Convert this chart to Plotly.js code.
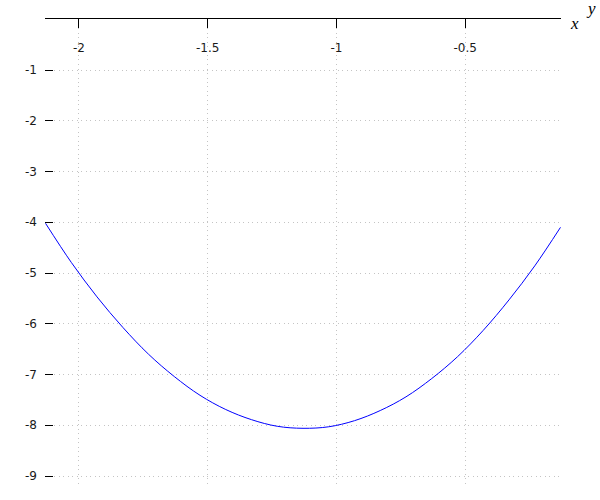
<!DOCTYPE html>
<html>
<head>
<meta charset="utf-8">
<script src="https://cdn.plot.ly/plotly-3.0.1.min.js"></script>
<style>html,body{margin:0;padding:0;background:#fff;}</style>
</head>
<body>
<div id="chart" style="width:600px;height:500px;"></div>
<script>
// Curve points
const xValues = [-2.13, -2.03, -1.93, -1.83, -1.73, -1.63, -1.53, -1.43, -1.33, -1.23, -1.13, -1.03, -0.93, -0.83, -0.73, -0.63, -0.53, -0.43, -0.33, -0.23, -0.13];
const yValues = [-4.02, -4.79, -5.47, -6.07, -6.60, -7.04, -7.41, -7.69, -7.89, -8.02, -8.06, -8.03, -7.91, -7.71, -7.44, -7.08, -6.65, -6.13, -5.53, -4.86, -4.10];

const xTickVals = [-2, -1.5, -1, -0.5];
const xTickText = ["-2", "-1.5", "-1", "-0.5"];
const yTickVals = [-1, -2, -3, -4, -5, -6, -7, -8, -9];
const yTickText = ["-1", "-2", "-3", "-4", "-5", "-6", "-7", "-8", "-9"];

const trace = {
  x: xValues, y: yValues, type: 'scatter', mode: 'lines',
  line: {color: '#0000ff', width: 1, shape: 'spline'},
  hoverinfo: 'skip'
};

const tickFont = {family: 'DejaVu Sans', size: 12, color: '#1a1a1a'};

const layout = {
  width: 600, height: 500,
  margin: {l: 45, r: 39, t: 19, b: 14, pad: 0},
  paper_bgcolor: '#fff', plot_bgcolor: '#fff',
  showlegend: false,
  xaxis: {
    side: 'top', range: [-2.132, -0.128],
    tickvals: xTickVals, ticktext: xTickText,
    showline: true, linecolor: '#000', linewidth: 1,
    ticks: 'inside', ticklen: 9, tickcolor: '#000', tickwidth: 1,
    ticklabelposition: 'inside', ticklabelstandoff: 15,
    showgrid: true, gridcolor: '#c4c4c4', griddash: '1px,3.5px', gridwidth: 1,
    zeroline: false, tickfont: tickFont, fixedrange: true
  },
  yaxis: {
    range: [-9.197, 0.005],
    tickvals: yTickVals, ticktext: yTickText,
    showline: false,
    ticks: 'inside', ticklen: 8, tickcolor: '#000', tickwidth: 1,
    ticklabelstandoff: 7,
    showgrid: true, gridcolor: '#c4c4c4', griddash: '1px,3.5px', gridwidth: 1,
    zeroline: false, tickfont: tickFont, fixedrange: true
  },
  annotations: [
    {text: 'x', xref: 'paper', yref: 'paper', x: 1.027, y: 0.99, xanchor: 'center', yanchor: 'middle',
     showarrow: false, font: {family: 'Liberation Serif', size: 17, color: '#000', style: 'italic'}},
    {text: 'y', xref: 'paper', yref: 'paper', x: 1.058, y: 1.022, xanchor: 'center', yanchor: 'middle',
     showarrow: false, font: {family: 'Liberation Serif', size: 17, color: '#000', style: 'italic'}}
  ]
};

Plotly.newPlot('chart', [trace], layout, {displayModeBar: false, staticPlot: true});
</script>
</body>
</html>
